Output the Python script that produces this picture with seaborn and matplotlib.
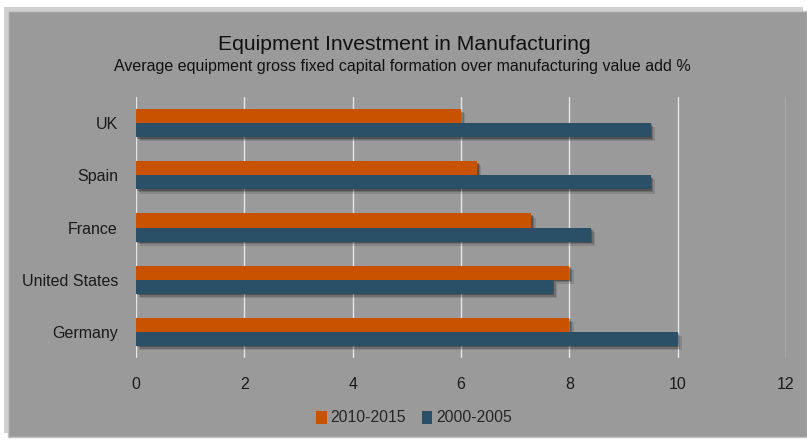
import matplotlib
matplotlib.use("Agg")
import matplotlib.pyplot as plt
import matplotlib.patheffects as pe
from matplotlib.patches import Rectangle, Patch
import seaborn as sns
import pandas as pd

countries = ["UK", "Spain", "France", "United States", "Germany"]
series_names = ["2010-2015", "2000-2005"]
values_2010_2015 = [6.0, 6.3, 7.3, 8.0, 8.0]
values_2000_2005 = [9.5, 9.5, 8.4, 7.7, 10.0]
x_ticks = [0, 2, 4, 6, 8, 10, 12]

df = pd.DataFrame({
    "country": countries * 2,
    "period": [series_names[0]] * len(countries) + [series_names[1]] * len(countries),
    "value": values_2010_2015 + values_2000_2005,
})

sns.set_theme(style="white")
plt.rcParams["font.family"] = ["Liberation Sans", "DejaVu Sans"]

W, H = 807, 441
fig = plt.figure(figsize=(W / 100, H / 100), dpi=100)
fig.patch.set_facecolor("white")

# chart panel with shadow
panel = Rectangle((8 / W, 4 / H), 1 - 8 / W, (437 - 11) / H, transform=fig.transFigure,
                  facecolor="#9A9A9A", edgecolor="#C4C4C4", linewidth=1.0, zorder=-5,
                  path_effects=[pe.SimplePatchShadow(offset=(-3, 3), shadow_rgbFace="#8A8A8A", alpha=0.4), pe.Normal()])
fig.patches.append(panel)

ax = fig.add_axes([136 / W, (H - 358) / H, (786 - 136) / W, (358 - 97) / H])
ax.set_facecolor("none")
ax.set_zorder(2)

colors = {"2010-2015": "#C85200", "2000-2005": "#2A5068"}
sns.barplot(data=df, y="country", x="value", hue="period", order=countries,
            hue_order=series_names, palette=colors, orient="h", width=0.54,
            saturation=1, ax=ax, legend=False, zorder=3)

shadow = [pe.SimplePatchShadow(offset=(3, -3), shadow_rgbFace="black", alpha=0.12),
          pe.SimplePatchShadow(offset=(2, -2), shadow_rgbFace="black", alpha=0.18),
          pe.SimplePatchShadow(offset=(1, -1), shadow_rgbFace="black", alpha=0.25),
          pe.Normal()]
for bar in ax.patches:
    bar.set_edgecolor("none")
    bar.set_path_effects(shadow)

ax.set_xlim(0, 12)
ax.set_xticks(x_ticks)
ax.set_xticklabels([str(t) for t in x_ticks])
ax.grid(axis="x", color="#E6E6E6", linewidth=1.0, zorder=1)
ax.set_axisbelow(True)
for s in ax.spines.values():
    s.set_visible(False)
ax.tick_params(axis="x", length=0, pad=14, labelsize=11.5, labelcolor="#1A1A1A")
ax.tick_params(axis="y", length=0, pad=13, labelsize=11.5, labelcolor="#1A1A1A")
ax.set_xlabel("")
ax.set_ylabel("")

fig.text(404 / W, 1 - 44 / H, "Equipment Investment in Manufacturing", ha="center", va="center",
         fontsize=15.2, color="#111111")
fig.text(402 / W, 1 - 66 / H, "Average equipment gross fixed capital formation over manufacturing value add %",
         ha="center", va="center", fontsize=11.5, color="#111111")

handles = [Patch(facecolor=colors[s], edgecolor="none") for s in series_names]
fig.legend(handles, series_names, loc="center", bbox_to_anchor=(414 / W, 1 - 418 / H), ncol=2,
           frameon=False, fontsize=11.3, handlelength=0.65, handleheight=0.9, handletextpad=0.25,
           columnspacing=1.0)

fig.savefig("out.png", dpi=100, facecolor=fig.get_facecolor())
